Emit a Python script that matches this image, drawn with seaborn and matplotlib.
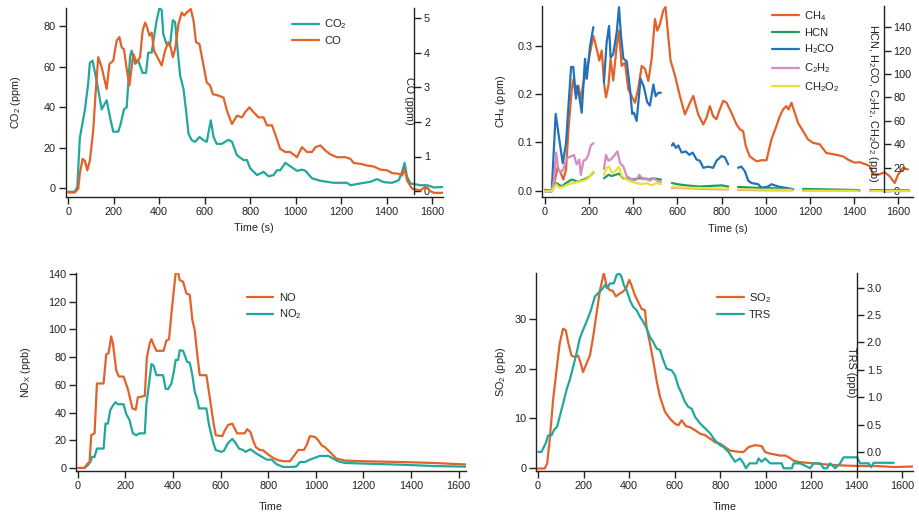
import numpy as np
import pandas as pd
import matplotlib
matplotlib.use('Agg')
import matplotlib.pyplot as plt
from matplotlib.lines import Line2D
import seaborn as sns

nan = np.nan

# ---- panel 1: CO2 / CO ----
co2_t = [0, 29, 40, 51, 73, 88, 95, 107, 125, 147, 169, 184, 198, 220, 231, 245, 257, 272, 279, 294,
         308, 327, 342, 352, 367, 377, 389, 401, 411, 418, 433, 448, 460, 470, 480, 492, 507, 518, 529, 543,
         558, 577, 595, 609, 627, 639, 653, 675, 705, 720, 742, 771, 786, 800, 830, 859, 881, 903, 918, 932,
         955, 976, 1006, 1028, 1043, 1072, 1109, 1167, 1226, 1241, 1285, 1329, 1358, 1388, 1424, 1454, 1468,
         1479, 1490, 1505, 1549, 1579, 1608, 1652]
co2_v = [-1.6, -1.6, 0.8, 25, 38.5, 52, 62, 63, 53, 39, 43.5, 35, 28, 28, 32, 39, 40, 65, 68, 61.5,
         63, 57, 57, 67, 67, 74.5, 83, 89, 88, 76, 71, 71, 83, 82, 69.6, 55.7, 49, 38.5, 27, 23.8,
         23, 25.4, 23.8, 23, 33.6, 25.4, 22, 22, 24, 23, 16.4, 14, 14, 10, 6.6, 8.2, 6, 6.6, 9, 9,
         12.6, 11, 8.7, 9.3, 8.7, 5, 3.8, 2.8, 2.8, 1.6, 2.5, 3.3, 4.6, 3.1, 2.8, 4.1, 8.2,
         12.6, 5.7, 2.5, 1.6, 1.6, 0.5, 0.8]
co_t = [0, 29, 44, 51, 63, 73, 84, 95, 110, 120, 132, 147, 169, 181, 198, 213, 225, 235, 245, 257,
        269, 279, 286, 301, 316, 327, 338, 345, 357, 367, 377, 396, 411, 426, 440, 451, 460, 470, 485, 499,
        510, 521, 539, 551, 562, 577, 595, 609, 624, 636, 661, 683, 698, 720, 742, 764, 778, 797, 815, 837,
        859, 874, 896, 910, 932, 955, 976, 1006, 1028, 1050, 1072, 1087, 1109, 1131, 1153, 1182, 1219, 1241,
        1256, 1285, 1314, 1344, 1373, 1403, 1424, 1454, 1468, 1479, 1490, 1512, 1549, 1571, 1593, 1608, 1652]
co_v = [-0.04, -0.04, 0.07, 0.5, 0.93, 0.88, 0.6, 0.88, 1.75, 2.8, 3.87, 3.58, 2.95, 3.67, 3.77, 4.35,
        4.45, 4.15, 4.1, 3.53, 3.05, 3.58, 3.96, 3.72, 3.87, 4.63, 4.87, 4.77, 4.49, 4.58, 4.06, 3.82,
        3.63, 4.06, 4.3, 4.15, 3.87, 4.1, 4.83, 5.16, 5.07, 5.16, 5.26, 4.92, 4.3, 4.25, 3.63, 3.14,
        3.05, 2.8, 2.76, 2.7, 2.32, 1.94, 2.18, 2.13, 2.28, 2.42, 2.28, 2.13, 2.13, 1.9, 1.9, 1.65,
        1.22, 1.13, 1.13, 0.98, 1.27, 1.13, 1.13, 1.27, 1.32, 1.17, 1.06, 0.98, 0.98, 0.93, 0.81, 0.79,
        0.74, 0.71, 0.62, 0.6, 0.52, 0.5, 0.45, 0.64, 0.31, 0.07, 0.02, 0.13, 0, -0.05, -0.05]

# ---- panel 2: CH4 (left) and HCN, H2CO, C2H2, CH2O2 (right, ppb); nan = gap ----
ch4_t = [0, 30, 45, 56, 68, 83, 95, 106, 121, 128, 140, 151, 162, 174, 189, 204, 219, 234, 246, 257,
         267, 276, 287, 297, 309, 325, 335, 347, 362, 377, 392, 408, 423, 438, 453, 468, 483, 498, 509, 521,
         536, 546, 558, 569, 589, 611, 634, 657, 672, 694, 717, 732, 747, 762, 777, 792, 808, 823, 845, 868,
         883, 898, 910, 928, 958, 981, 1004, 1026, 1049, 1064, 1079, 1094, 1104, 1117, 1132, 1147, 1170, 1192,
         1215, 1245, 1275, 1313, 1351, 1374, 1404, 1426, 1457, 1472, 1487, 1509, 1540, 1562, 1585, 1600, 1623, 1645]
ch4_v = [0.002, 0, 0.023, 0.047, 0.04, 0.023, 0.044, 0.127, 0.21, 0.23, 0.196, 0.217, 0.189, 0.224, 0.248,
         0.286, 0.32, 0.293, 0.269, 0.29, 0.224, 0.193, 0.217, 0.272, 0.228, 0.3, 0.331, 0.258, 0.265, 0.21,
         0.196, 0.182, 0.213, 0.258, 0.252, 0.227, 0.272, 0.355, 0.331, 0.345, 0.373, 0.38, 0.321, 0.269,
         0.238, 0.196, 0.158, 0.182, 0.196, 0.158, 0.137, 0.151, 0.175, 0.154, 0.148, 0.168, 0.186, 0.182,
         0.161, 0.137, 0.127, 0.123, 0.092, 0.071, 0.061, 0.063, 0.063, 0.106, 0.134, 0.154, 0.168, 0.175,
         0.168, 0.182, 0.161, 0.14, 0.123, 0.106, 0.099, 0.096, 0.078, 0.075, 0.071, 0.064, 0.058, 0.059,
         0.054, 0.051, 0.033, 0.033, 0.038, 0.03, 0.016, 0.033, 0.047, 0.044]
hcn_t = [0, 30, 50, 60, 75, 95, 121, 136, 151, 174, 189, 204, 219, nan,
         267, 287, 302, 318, 335, 355, 377, 400, 423, 445, 468, 491, 525, nan,
         575, 600, 640, 700, 750, 800, 830, nan, 875, 950, 1050, 1120, nan,
         1170, 1300, 1420, nan, 1475, 1560, 1650]
hcn_v = [0, 0, 7, 6, 4, 7, 10, 9, 8, 10, 11, 13, 16, nan,
         11, 14, 13, 14, 15, 11, 11, 10, 11, 11, 10, 11, 10, nan,
         7, 6, 5, 4, 4.5, 5, 4, nan, 3.7, 3, 2.5, 2, nan,
         2, 1.5, 1, nan, 0.8, 0.6, 0.5]
h2co_t = [0, 30, 48, 60, 80, 95, 106, 118, 128, 140, 146, 155, 166, 181, 189, 204, 219, nan,
          267, 279, 290, 297, 309, 325, 335, 344, 355, 370, 385, 395, 403, 415, 423, 433, 448, 463,
          475, 491, 501, 513, 525, nan,
          575, 581, 593, 604, 619, 638, 654, 669, 687, 702, 717, 740, 762, 777, 800, 815, 830, nan,
          875, 890, 906, 921, 936, 966, 981, 1011, 1026, 1057, 1087, 1125, nan,
          1170, 1300, 1425, nan, 1475, 1560, 1650]
h2co_v = [0, 0, 66, 50, 24, 41, 73, 106, 106, 79, 90, 81, 67, 113, 96, 124, 140, nan,
          93, 127, 141, 114, 117, 136, 157, 133, 113, 111, 87, 66, 67, 60, 76, 96, 89, 76,
          73, 91, 81, 84, 84, nan,
          39, 41, 37, 39, 33, 34, 31, 33, 27, 26, 20, 21, 20, 26, 30, 29, 23, nan,
          20, 21, 17, 9, 7, 6, 3, 4, 6, 4, 3, 1.5, nan,
          1, 0.8, 0.6, nan, 0.8, 0.6, 0.6]
c2h2_t = [0, 30, 41, 50, 60, 72, 83, 95, 106, 121, 131, 143, 155, 162, 174, 185, 196, 207, 219, nan,
          267, 276, 287, 297, 312, 328, 340, 355, 370, 385, 400, 415, 427, 445, 460, 475, 491, 509, 525, nan,
          575, 650, 750, 830, nan, 875, 1000, 1120, nan, 1170, 1420, nan, 1475, 1650]
c2h2_v = [0, 0, 10, 33, 19, 16, 19, 27, 29, 30, 31, 23, 27, 14, 26, 27, 31, 39, 41, nan,
          19, 31, 26, 27, 30, 34, 24, 21, 13, 11, 9, 10, 14, 10, 11, 9, 11, 9, 8, nan,
          3, 2.5, 1.8, 1.5, nan, 1.2, 0.8, 0.8, nan, 0.5, 0.4, nan, 0.3, 0.3]
ch2o2_t = [0, 30, 50, 65, 83, 106, 128, 151, 174, 196, 219, nan,
           267, 279, 290, 302, 318, 335, 347, 370, 392, 415, 438, 460, 483, 506, 525, nan,
           575, 650, 750, 830, nan, 875, 1000, 1120, nan, 1170, 1420, nan, 1475, 1650]
ch2o2_v = [0, 0, 6, 3, 4, 6, 7, 8, 9, 11, 17, nan,
           14, 20, 21, 16, 17, 21, 13, 10, 8, 7, 6, 7, 5, 7, 6, nan,
           3.5, 3, 2.5, 2, nan, 1.6, 1.3, 1.2, nan, 0.4, 0.3, nan, 0.2, 0.2]

# ---- panel 3: NO / NO2 ----
no_t = [0, 28, 38, 49, 56, 70, 80, 108, 119, 129, 140, 147, 161, 172, 192, 210, 229, 243, 252, 281,
        290, 302, 309, 318, 330, 360, 372, 383, 393, 403, 411, 421, 428, 442, 456, 470, 481, 491, 501, 512,
        540, 554, 568, 579, 607, 617, 631, 649, 669, 701, 711, 725, 736, 748, 764, 778, 800, 821, 842, 870,
        891, 905, 926, 950, 961, 975, 996, 1010, 1024, 1038, 1059, 1073, 1087, 1108, 1122, 1213, 1354, 1494,
        1606, 1640]
no_v = [0, 0, 2.7, 4.3, 23.6, 25, 61, 61, 82, 83, 95, 90, 70.6, 66, 66, 57, 43, 42, 51, 52,
        80, 90, 93, 89, 84.6, 84.6, 92, 93, 111.6, 128, 141, 141, 135.7, 134.5, 126, 125, 107, 99.5, 82.7, 67,
        67, 51, 34.5, 23.6, 23, 27, 31, 32, 25, 25, 28, 26, 20, 15, 13, 12.8, 9.6, 7.2, 5.5, 4.8,
        4.8, 8, 13, 13, 16.4, 23, 22.4, 20, 16.4, 15, 11.6, 9, 6.7, 6, 5.3, 4.8, 4.3, 3.6, 2.7, 2.5]
no2_t = [0, 28, 42, 52, 60, 70, 80, 108, 116, 126, 136, 147, 158, 168, 192, 203, 217, 231, 245, 259,
         281, 288, 299, 309, 318, 330, 358, 369, 379, 393, 403, 411, 421, 428, 442, 459, 470, 481, 491, 501,
         509, 540, 551, 568, 579, 603, 613, 631, 649, 663, 677, 694, 705, 725, 750, 767, 793, 814, 835, 863,
         905, 919, 933, 954, 975, 1017, 1052, 1073, 1094, 1122, 1213, 1354, 1494, 1606, 1640]
no2_v = [0, 0, 2, 4.3, 8, 8, 14, 14, 32, 32, 41.7, 45, 47.5, 46, 46, 39, 34.5, 25, 23.6, 25,
         25, 46.5, 61, 75, 74, 67, 67, 57, 57, 61, 69.4, 78, 78, 85, 84.6, 76.6, 76, 67, 55, 50,
         43, 43, 31, 18.8, 13, 11.6, 12.3, 18, 21, 18, 14, 13, 11.6, 13.5, 10.4, 8.7, 6, 6, 2.7, 0.7,
         0.7, 1.2, 4.3, 4.3, 6, 8.7, 8.7, 6.7, 4.8, 3.6, 3.1, 2.4, 1.4, 1, 0.9]

# ---- panel 4: SO2 (left) / TRS (right) ----
so2_t = [0, 29, 40, 51, 66, 81, 95, 110, 122, 132, 147, 161, 176, 186, 198, 213, 228, 242, 257, 272,
         289, 301, 316, 327, 342, 357, 371, 386, 401, 411, 426, 440, 455, 470, 477, 492, 506, 521, 536, 558,
         580, 602, 617, 631, 650, 668, 690, 712, 734, 756, 778, 800, 822, 844, 873, 903, 925, 954, 983, 998,
         1020, 1042, 1064, 1086, 1101, 1123, 1145, 1196, 1270, 1343, 1416, 1490, 1563, 1651]
so2_v = [-0.1, -0.1, 0.9, 5.6, 13.6, 19.6, 25, 28, 27.7, 25.3, 22.6, 22.3, 22.6, 21.3, 19.3, 21, 22.6, 26.3,
         31, 35.7, 39.2, 36.7, 35.7, 35.7, 34.5, 35, 35.4, 36, 37.8, 36.7, 34.7, 33.4, 32, 31.7, 28.3, 25,
         21.6, 17.6, 14.3, 11.3, 9.9, 8.9, 8.6, 9.6, 8.4, 8.2, 7.6, 6.9, 6.6, 5.9, 5.2, 4.9, 4.2, 3.5,
         3.3, 3.2, 4.2, 4.6, 4.4, 3.2, 2.9, 2.7, 2.5, 2.5, 2.2, 1.5, 1.2, 1, 0.7, 0.5, 0.4, 0.4, 0.2, 0.3]
trs_t = [0, 15, 34, 44, 59, 70, 84, 95, 110, 125, 139, 154, 169, 183, 198, 213, 230, 250, 264, 279,
         294, 304, 316, 333, 345, 357, 367, 377, 389, 404, 418, 433, 448, 462, 477, 492, 506, 521, 536, 550,
         565, 587, 602, 617, 631, 646, 661, 675, 690, 712, 734, 756, 778, 800, 815, 837, 851, 866, 888, 903,
         914, 929, 961, 969, 983, 998, 1020, 1071, 1079, 1116, 1123, 1152, 1196, 1211, 1240, 1255, 1270, 1284,
         1306, 1328, 1343, 1402, 1416, 1453, 1464, 1475, 1563]
trs_v = [0, 0, 0.16, 0.3, 0.3, 0.4, 0.46, 0.64, 0.88, 1.13, 1.31, 1.55, 1.8, 2.07, 2.23, 2.38, 2.56, 2.84,
         2.9, 2.96, 3.05, 2.99, 3.08, 3.08, 3.23, 3.27, 3.2, 3.05, 2.96, 2.77, 2.65, 2.59, 2.47, 2.38, 2.26,
         2.1, 2.01, 1.89, 1.86, 1.68, 1.52, 1.49, 1.4, 1.19, 1.07, 0.91, 0.82, 0.79, 0.64, 0.52, 0.43, 0.34,
         0.21, 0.12, 0.09, 0, -0.09, -0.18, -0.12, -0.21, -0.3, -0.21, -0.21, -0.12, -0.18, -0.12, -0.21,
         -0.21, -0.3, -0.3, -0.21, -0.21, -0.3, -0.21, -0.21, -0.3, -0.3, -0.21, -0.3, -0.21, -0.1, -0.1,
         -0.21, -0.21, -0.28, -0.2, -0.2]

ORANGE = '#E0632B'
TEAL = '#22A79D'
GREEN = '#1E9E5C'
BLUE = '#2371BA'
PINK = '#D68AC6'
YELLOW = '#E9E135'
INK = '#222222'

sns.set_style('ticks')
plt.rcParams['font.family'] = ['Liberation Sans', 'DejaVu Sans']
plt.rcParams['mathtext.default'] = 'regular'
plt.rcParams['axes.edgecolor'] = INK
plt.rcParams['axes.linewidth'] = 1.0
plt.rcParams['xtick.color'] = INK
plt.rcParams['ytick.color'] = INK
plt.rcParams['text.color'] = INK
plt.rcParams['axes.labelcolor'] = INK

LW = 1.6
FS = 7.8


def draw(ax, t, v, color):
    df = pd.DataFrame({'t': t, 'v': v})
    df['seg'] = df['t'].isna().cumsum()
    df = df.dropna()
    sns.lineplot(data=df, x='t', y='v', units='seg', estimator=None, sort=False,
                 ax=ax, color=color, linewidth=LW, legend=False)


def style(ax, xlim, ylim, yticks, fmt=None):
    ax.set_xlim(*xlim)
    ax.set_ylim(*ylim)
    ax.set_xticks(range(0, 1601, 200))
    ax.set_yticks(yticks)
    if fmt:
        ax.set_yticklabels([fmt.format(y) for y in yticks])
    ax.tick_params(direction='out', length=5, width=1, labelsize=FS, pad=2)
    for s in ('top', 'right'):
        ax.spines[s].set_visible(False)
    ax.set_xlabel('')
    ax.set_ylabel('')


def right_axis(ax, xpos, ylim, yticks, bounds, fmt=None):
    ax2 = ax.twinx()
    return ax2


def finish_right(ax2, xpos, ylim, yticks, bounds, fmt=None):
    ax2.set_ylim(*ylim)
    ax2.set_yticks(yticks)
    if fmt:
        ax2.set_yticklabels([fmt.format(y) for y in yticks])
    for s in ('top', 'left', 'bottom'):
        ax2.spines[s].set_visible(False)
    ax2.spines['right'].set_position(('data', xpos))
    ax2.spines['right'].set_bounds(*bounds)
    ax2.tick_params(direction='out', length=5, width=1, labelsize=FS, pad=2)
    ax2.set_ylabel('')
    ax2.set_xlabel('')


def legend(ax, items, x, y):
    handles = [Line2D([], [], color=c, lw=LW) for c, _ in items]
    ax.legend(handles, [l for _, l in items], loc='upper left', bbox_to_anchor=(x, y),
              frameon=False, fontsize=8, handlelength=2.4, handletextpad=0.5,
              labelspacing=0.45, borderpad=0, borderaxespad=0)


fig = plt.figure(figsize=(9.2, 5.19), dpi=100)
W, H = 920.0, 519.0


def box(l, r, t, b):
    return [l / W, 1 - b / H, (r - l) / W, (b - t) / H]


# panel 1
ax1 = fig.add_axes(box(65.5, 443, 8, 197))
ax1b = ax1.twinx()
draw(ax1, co2_t, co2_v, TEAL)
draw(ax1b, co_t, co_v, ORANGE)
style(ax1, (-12, 1648), (-4.2, 89), [0, 20, 40, 60, 80])
finish_right(ax1b, 1522, (-0.17, 5.29), [0, 1, 2, 3, 4, 5], (-0.08, 5.29))
ax1.set_xlabel('Time (s)', fontsize=FS)
ax1.xaxis.set_label_coords(0.5, -0.14)
ax1.set_ylabel('CO$_2$ (ppm)', fontsize=FS)
ax1.yaxis.set_label_coords(-0.113, 0.5)
ax1.text(0.91, 0.51, 'CO (ppm)', transform=ax1.transAxes, rotation=270,
         ha='center', va='center', fontsize=FS)
legend(ax1b, [(TEAL, 'CO$_2$'), (ORANGE, 'CO')], 0.6, 0.95)

# panel 2
ax2 = fig.add_axes(box(542, 913, 6, 197))
ax2b = ax2.twinx()
draw(ax2, ch4_t, ch4_v, ORANGE)
draw(ax2b, hcn_t, hcn_v, GREEN)
draw(ax2b, h2co_t, h2co_v, BLUE)
draw(ax2b, c2h2_t, c2h2_v, PINK)
draw(ax2b, ch2o2_t, ch2o2_v, YELLOW)
style(ax2, (-14, 1668), (-0.013, 0.382), [0.0, 0.1, 0.2, 0.3], '{:.1f}')
finish_right(ax2b, 1535, (-4.9, 158), list(range(0, 141, 20)), (-1, 158))
ax2.set_xlabel('Time (s)', fontsize=FS)
ax2.xaxis.set_label_coords(0.5, -0.14)
ax2.set_ylabel('CH$_4$ (ppm)', fontsize=FS)
ax2.yaxis.set_label_coords(-0.092, 0.5)
ax2.text(0.892, 0.49, 'HCN, H$_2$CO, C$_2$H$_2$, CH$_2$O$_2$ (ppb)', transform=ax2.transAxes,
         rotation=270, ha='center', va='center', fontsize=FS)
legend(ax2b, [(ORANGE, 'CH$_4$'), (GREEN, 'HCN'), (BLUE, 'H$_2$CO'), (PINK, 'C$_2$H$_2$'),
              (YELLOW, 'CH$_2$O$_2$')], 0.62, 0.985)

# panel 3
ax3 = fig.add_axes(box(76, 466, 272.7, 471))
draw(ax3, no2_t, no2_v, TEAL)
draw(ax3, no_t, no_v, ORANGE)
style(ax3, (-8, 1631), (-2.2, 141), list(range(0, 141, 20)))
ax3.set_xlabel('Time', fontsize=FS)
ax3.xaxis.set_label_coords(0.5, -0.155)
ax3.set_ylabel('NO$_X$ (ppb)', fontsize=FS)
ax3.yaxis.set_label_coords(-0.11, 0.5)
legend(ax3, [(ORANGE, 'NO'), (TEAL, 'NO$_2$')], 0.438, 0.9)

# panel 4
ax4 = fig.add_axes(box(536, 913, 273, 471))
ax4b = ax4.twinx()
draw(ax4, so2_t, so2_v, ORANGE)
draw(ax4b, trs_t, trs_v, TEAL)
style(ax4, (-9, 1648), (-0.6, 39.2), [0, 10, 20, 30])
finish_right(ax4b, 1402, (-0.35, 3.27), [0.0, 0.5, 1.0, 1.5, 2.0, 2.5, 3.0], (-0.33, 3.27), '{:.1f}')
ax4.set_xlabel('Time', fontsize=FS)
ax4.xaxis.set_label_coords(0.5, -0.155)
ax4.set_ylabel('SO$_2$ (ppb)', fontsize=FS)
ax4.yaxis.set_label_coords(-0.074, 0.5)
ax4.text(0.836, 0.5, 'TRS (ppb)', transform=ax4.transAxes, rotation=270,
         ha='center', va='center', fontsize=FS)
legend(ax4b, [(ORANGE, 'SO$_2$'), (TEAL, 'TRS')], 0.48, 0.91)

fig.savefig('out.png', dpi=100)
